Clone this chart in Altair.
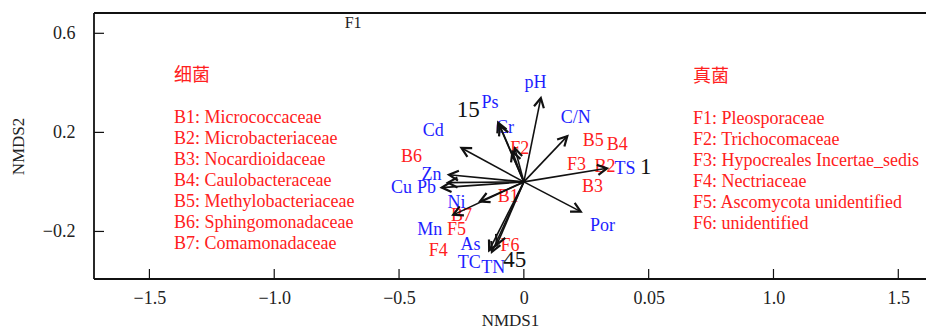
import math
import altair as alt
import pandas as pd

# ---------------- data ----------------
# arrow end points (NMDS1, NMDS2)
arrow_x = [0.068, 0.174, 0.333, 0.228, -0.103, -0.096, -0.036, -0.046, -0.250,
           -0.300, -0.304, -0.329, -0.176, -0.283, -0.139, -0.128, -0.108]
arrow_y = [0.339, 0.185, 0.055, -0.120, 0.239, 0.227, 0.136, 0.122, 0.137,
           0.029, -0.003, -0.023, -0.079, -0.133, -0.276, -0.282, -0.253]

# environmental variable labels (blue)
env_names = ["pH", "Ps", "Cr", "C/N", "Cd", "Zn", "Cu", "Pb", "Ni", "Mn",
             "As", "TC", "TN", "TS", "Por"]
env_x = [0.047, -0.136, -0.076, 0.208, -0.363, -0.370, -0.490, -0.390, -0.270,
         -0.377, -0.214, -0.219, -0.123, 0.405, 0.315]
env_y = [0.400, 0.319, 0.218, 0.258, 0.204, 0.029, -0.025, -0.025, -0.085,
         -0.196, -0.254, -0.328, -0.348, 0.052, -0.177]

# taxa labels (red)
taxa_names = ["B1", "B2", "B3", "B4", "B5", "B6", "B7",
              "F2", "F3", "F4", "F5", "F6"]
taxa_x = [-0.063, 0.325, 0.275, 0.374, 0.278, -0.450, -0.250,
          -0.016, 0.211, -0.343, -0.270, -0.056]
taxa_y = [-0.061, 0.060, -0.021, 0.150, 0.164, 0.101, -0.139,
          0.133, 0.069, -0.277, -0.196, -0.257]

# sample labels (black)
site_names = ["15", "1", "45"]
site_x = [-0.223, 0.488, -0.036]
site_y = [0.292, 0.060, -0.314]

top_name = ["F1"]
top_x = [-0.684]
top_y = [0.642]

bac_title = "细菌"
bac_lines = ["B1: Micrococcaceae", "B2: Microbacteriaceae",
             "B3: Nocardioidaceae", "B4: Caulobacteraceae",
             "B5: Methylobacteriaceae", "B6: Sphingomonadaceae",
             "B7: Comamonadaceae"]
fun_title = "真菌"
fun_lines = ["F1: Pleosporaceae", "F2: Trichocomaceae",
             "F3: Hypocreales Incertae_sedis", "F4: Nectriaceae",
             "F5: Ascomycota unidentified", "F6: unidentified"]

x_ticks = [-1.5, -1.0, -0.5, 0.0, 0.5, 1.0, 1.5]
y_ticks = [0.6, 0.2, -0.2]

# ---------------- chart ----------------
W, H = 832, 266
XD = [-1.722, 1.611]
YD = [-0.392, 0.682]
px_per_x = W / (XD[1] - XD[0])
px_per_y = H / (YD[1] - YD[0])

FONT = "'Liberation Serif', 'Noto Sans CJK SC'"
RED = "#ff2020"
BLUE = "#1e1eff"
INK = "#111111"

xs = alt.Scale(domain=XD, nice=False, zero=False)
ys = alt.Scale(domain=YD, nice=False, zero=False)

xaxis = alt.Axis(
    title="NMDS1", values=x_ticks,
    labelExpr="datum.value == 0.5 ? '0.05' : (datum.value == 0 ? '0' : format(datum.value, '.1f'))",
    labelPadding=10, titlePadding=5)
yaxis = alt.Axis(title="NMDS2", values=y_ticks, format=".1f",
                 labelPadding=19, titlePadding=15)

X = alt.X("x:Q", scale=xs, axis=xaxis)
Y = alt.Y("y:Q", scale=ys, axis=yaxis)

arr = pd.DataFrame({"x": arrow_x, "y": arrow_y})
arr["x0"] = 0.0
arr["y0"] = 0.0
arr["angle"] = [
    math.degrees(math.atan2(a * px_per_x, b * px_per_y)) % 360
    for a, b in zip(arrow_x, arrow_y)
]

shafts = alt.Chart(arr).mark_rule(color=INK, strokeWidth=1.6).encode(
    x=X, y=Y, x2="x0:Q", y2="y0:Q")

heads = alt.Chart(arr).mark_point(
    shape="M-0.5,0.95L0,0L0.5,0.95", filled=False, size=400,
    strokeWidth=2.2, color=INK, opacity=1).encode(
    x=X, y=Y, angle=alt.Angle("angle:Q", scale=None))

env = alt.Chart(pd.DataFrame({"x": env_x, "y": env_y, "t": env_names})).mark_text(
    font=FONT, fontSize=18, color=BLUE).encode(x=X, y=Y, text="t:N")

taxa = alt.Chart(pd.DataFrame({"x": taxa_x, "y": taxa_y, "t": taxa_names})).mark_text(
    font=FONT, fontSize=18, color=RED).encode(x=X, y=Y, text="t:N")

sites = alt.Chart(pd.DataFrame({"x": site_x, "y": site_y, "t": site_names})).mark_text(
    font=FONT, fontSize=23, color=INK).encode(x=X, y=Y, text="t:N")

topf = alt.Chart(pd.DataFrame({"x": top_x, "y": top_y, "t": top_name})).mark_text(
    font=FONT, fontSize=16, color="#222").encode(x=X, y=Y, text="t:N")

one = pd.DataFrame({"a": [0]})


def block(text, xpos, ypos):
    return alt.Chart(one).mark_text(
        font=FONT, fontSize=18, color=RED, align="left", baseline="top",
        lineHeight=21).encode(x=alt.value(xpos), y=alt.value(ypos), text=alt.value(text))


bac_h = block(bac_title, 80, 54)
bac = block(bac_lines, 80, 96)
fun_h = block(fun_title, 599, 55)
fun = block(fun_lines, 599, 97)

xt = alt.Chart(pd.DataFrame({"x": x_ticks})).mark_rule(color=INK, strokeWidth=1.2).encode(
    x=X, y=alt.value(H - 10), y2=alt.value(H))
yt = alt.Chart(pd.DataFrame({"y": y_ticks})).mark_rule(color=INK, strokeWidth=1.2).encode(
    y=Y, x=alt.value(0), x2=alt.value(10))

# frame: top, left and bottom (the right side runs off the picture)
top_line = alt.Chart(one).mark_rule(color=INK, strokeWidth=1.8).encode(
    x=alt.value(0), x2=alt.value(W), y=alt.value(0))
left_line = alt.Chart(one).mark_rule(color=INK, strokeWidth=1.8).encode(
    x=alt.value(0), y=alt.value(0), y2=alt.value(H))
bottom_line = alt.Chart(one).mark_rule(color=INK, strokeWidth=1.8).encode(
    x=alt.value(0), x2=alt.value(W), y=alt.value(H))

chart = alt.layer(xt, yt, bac_h, bac, fun_h, fun, env, taxa, sites, topf,
                  shafts, heads, top_line, left_line, bottom_line).properties(
    width=W, height=H,
    autosize=alt.AutoSizeParams(type="none"),
    padding={"left": 86, "top": 5, "right": 0, "bottom": 50},
    background="white",
).configure_view(
    strokeWidth=0
).configure_axis(
    grid=False, domain=False, ticks=False,
    labelFont=FONT, titleFont=FONT, labelFontSize=18, titleFontSize=17,
    labelColor="#222", titleColor="#222", titleFontWeight="normal",
)

chart.save("out.html", embed_options={"renderer": "svg", "actions": False})
